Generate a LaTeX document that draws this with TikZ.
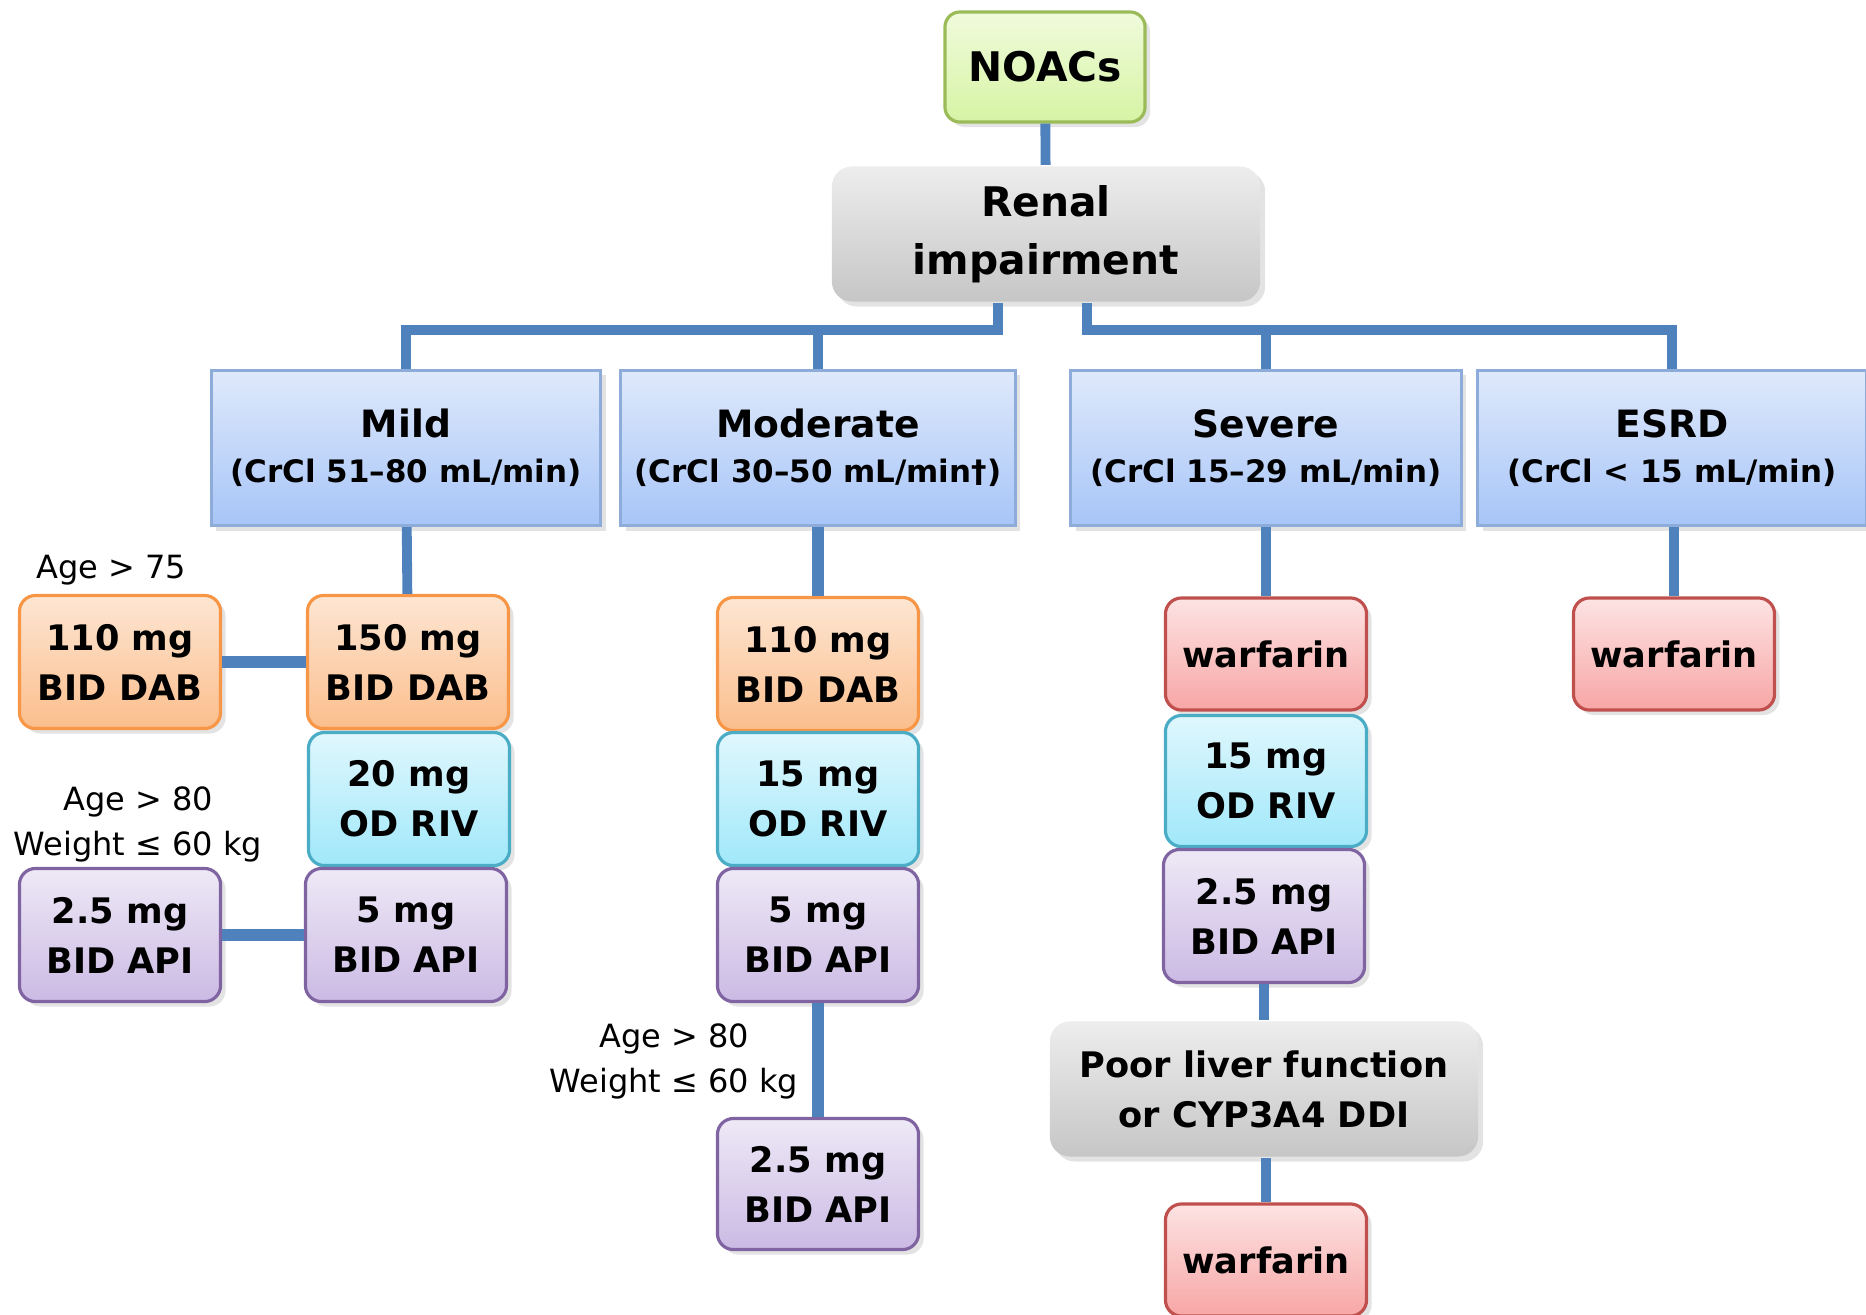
\documentclass[tikz,border=0pt]{standalone}
\usepackage{fontspec}
\setmainfont{DejaVu Sans}
\usetikzlibrary{positioning,shadows}
\definecolor{linkblue}{HTML}{4F81BD}
\definecolor{noacline}{HTML}{9BBB59}\definecolor{noactop}{HTML}{F0FBDC}\definecolor{noacbot}{HTML}{D6F4A4}
\definecolor{condtop}{HTML}{EDEDED}\definecolor{condbot}{HTML}{C6C6C6}
\definecolor{gradeline}{HTML}{8EACDA}\definecolor{gradetop}{HTML}{DFE9FB}\definecolor{gradebot}{HTML}{A7C5F8}
\definecolor{dabline}{HTML}{F79646}\definecolor{dabtop}{HTML}{FDE6D3}\definecolor{dabbot}{HTML}{FBBE8C}
\definecolor{rivline}{HTML}{4BACC6}\definecolor{rivtop}{HTML}{E0F7FD}\definecolor{rivbot}{HTML}{A0E8FA}
\definecolor{apiline}{HTML}{8064A2}\definecolor{apitop}{HTML}{EEE9F6}\definecolor{apibot}{HTML}{CBBAE4}
\definecolor{warfline}{HTML}{C0504D}\definecolor{warftop}{HTML}{FDE3E3}\definecolor{warfbot}{HTML}{F7A6A5}

\begin{document}
\begin{tikzpicture}[x=0.01cm,y=-0.01cm,
  box/.style={align=center,inner sep=0pt,line width=0.9pt,font=\bfseries\fontsize{10}{14.2}\selectfont,
    drop shadow={opacity=0.22,shadow xshift=0.05cm,shadow yshift=-0.05cm}},
  dose/.style={box,rounded corners=0.16cm,minimum width=2.01cm,minimum height=1.33cm},
  dab/.style={dose,draw=dabline,top color=dabtop,bottom color=dabbot},
  riv/.style={dose,draw=rivline,top color=rivtop,bottom color=rivbot},
  api/.style={dose,draw=apiline,top color=apitop,bottom color=apibot},
  warf/.style={dose,draw=warfline,top color=warftop,bottom color=warfbot,minimum height=1.12cm},
  grade/.style={box,draw=gradeline,top color=gradetop,bottom color=gradebot,minimum height=1.55cm,
    font=\bfseries\fontsize{8.8}{12.8}\selectfont},
  cond/.style={box,rounded corners=0.2cm,top color=condtop,bottom color=condbot,minimum width=4.28cm,minimum height=1.35cm},
  note/.style={align=center,inner sep=0pt,font=\fontsize{9.1}{12.8}\selectfont},
  link/.style={draw=linkblue,line width=2.8pt},
  heavy/.style={draw=linkblue,line width=3.4pt}]
  \useasboundingbox (0,0) rectangle (1866,1314);

  \node[box,draw=noacline,top color=noactop,bottom color=noacbot,rounded corners=0.15cm,
    minimum width=2cm,minimum height=1.1cm,font=\bfseries\fontsize{11.6}{14}\selectfont] (noacs) at (1045,67) {NOACs};
  \node[cond,font=\bfseries\fontsize{11.6}{16.5}\selectfont] (renal) at (1046,234) {Renal\\impairment};

  \node[grade,minimum width=3.89cm] (mild) at (406,448) {{\fontsize{10.7}{12.8}\selectfont Mild}\\(CrCl 51–80 mL/min)};
  \node[grade,minimum width=3.94cm] (moderate) at (818,448) {{\fontsize{10.7}{12.8}\selectfont Moderate}\\(CrCl 30–50 mL/min†)};
  \node[grade,minimum width=3.9cm] (severe) at (1266,448) {{\fontsize{10.7}{12.8}\selectfont Severe}\\(CrCl 15–29 mL/min)};
  \node[grade,minimum width=3.88cm] (esrd) at (1672,448) {{\fontsize{10.7}{12.8}\selectfont ESRD}\\(CrCl < 15 mL/min)};

  \node[dab] (milddab) at (408,662) {150 mg\\BID DAB};
  \node[dab] (milddablow) at (120,662) {110 mg\\BID DAB};
  \node[riv] (mildriv) at (409,799) {20 mg\\OD RIV};
  \node[api] (mildapi) at (406,935) {5 mg\\BID API};
  \node[api] (mildapilow) at (120,935) {2.5 mg\\BID API};
  \node[note] (agemild) at (111,570) {Age > 75};
  \node[note] (weightmild) at (138,824) {Age > 80\\Weight ≤ 60 kg};

  \node[dab] (moddab) at (818,664) {110 mg\\BID DAB};
  \node[riv] (modriv) at (818,799) {15 mg\\OD RIV};
  \node[api] (modapi) at (818,935) {5 mg\\BID API};
  \node[api,minimum height=1.31cm] (modapilow) at (818,1184) {2.5 mg\\BID API};
  \node[note] (weightmod) at (674,1061) {Age > 80\\Weight ≤ 60 kg};

  \node[warf] (sevwarf) at (1266,654) {warfarin};
  \node[riv,minimum height=1.31cm] (sevriv) at (1266,781) {15 mg\\OD RIV};
  \node[api] (sevapi) at (1264,916) {2.5 mg\\BID API};
  \node[cond] (liver) at (1264,1089) {Poor liver function\\or CYP3A4 DDI};
  \node[warf] (sevwarflow) at (1266,1260) {warfarin};

  \node[warf] (esrdwarf) at (1674,654) {warfarin};

  \coordinate (lsplit) at (998,330);
  \coordinate (rsplit) at (1087,330);
  \draw[link] (noacs) -- (renal);
  \draw[link] (renal.south -| lsplit) -- (lsplit) -| (mild.north);
  \draw[link] (moderate.north |- lsplit) -- (moderate.north);
  \draw[link] (renal.south -| rsplit) -- (rsplit) -| (esrd.north);
  \draw[link] (severe.north |- rsplit) -- (severe.north);
  \draw[link] (mild) -- (milddab);
  \draw[heavy] (milddablow) -- (milddab);
  \draw[heavy] (mildapilow) -- (mildapi);
  \draw[heavy] (moderate) -- (moddab);
  \draw[heavy] (modapi) -- (modapilow);
  \draw[link] (severe) -- (sevwarf);
  \draw[link] (sevapi) -- (liver);
  \draw[link] (sevwarflow.north |- liver.south) -- (sevwarflow.north);
  \draw[link] (esrdwarf.north |- esrd.south) -- (esrdwarf.north);
\end{tikzpicture}
\end{document}
